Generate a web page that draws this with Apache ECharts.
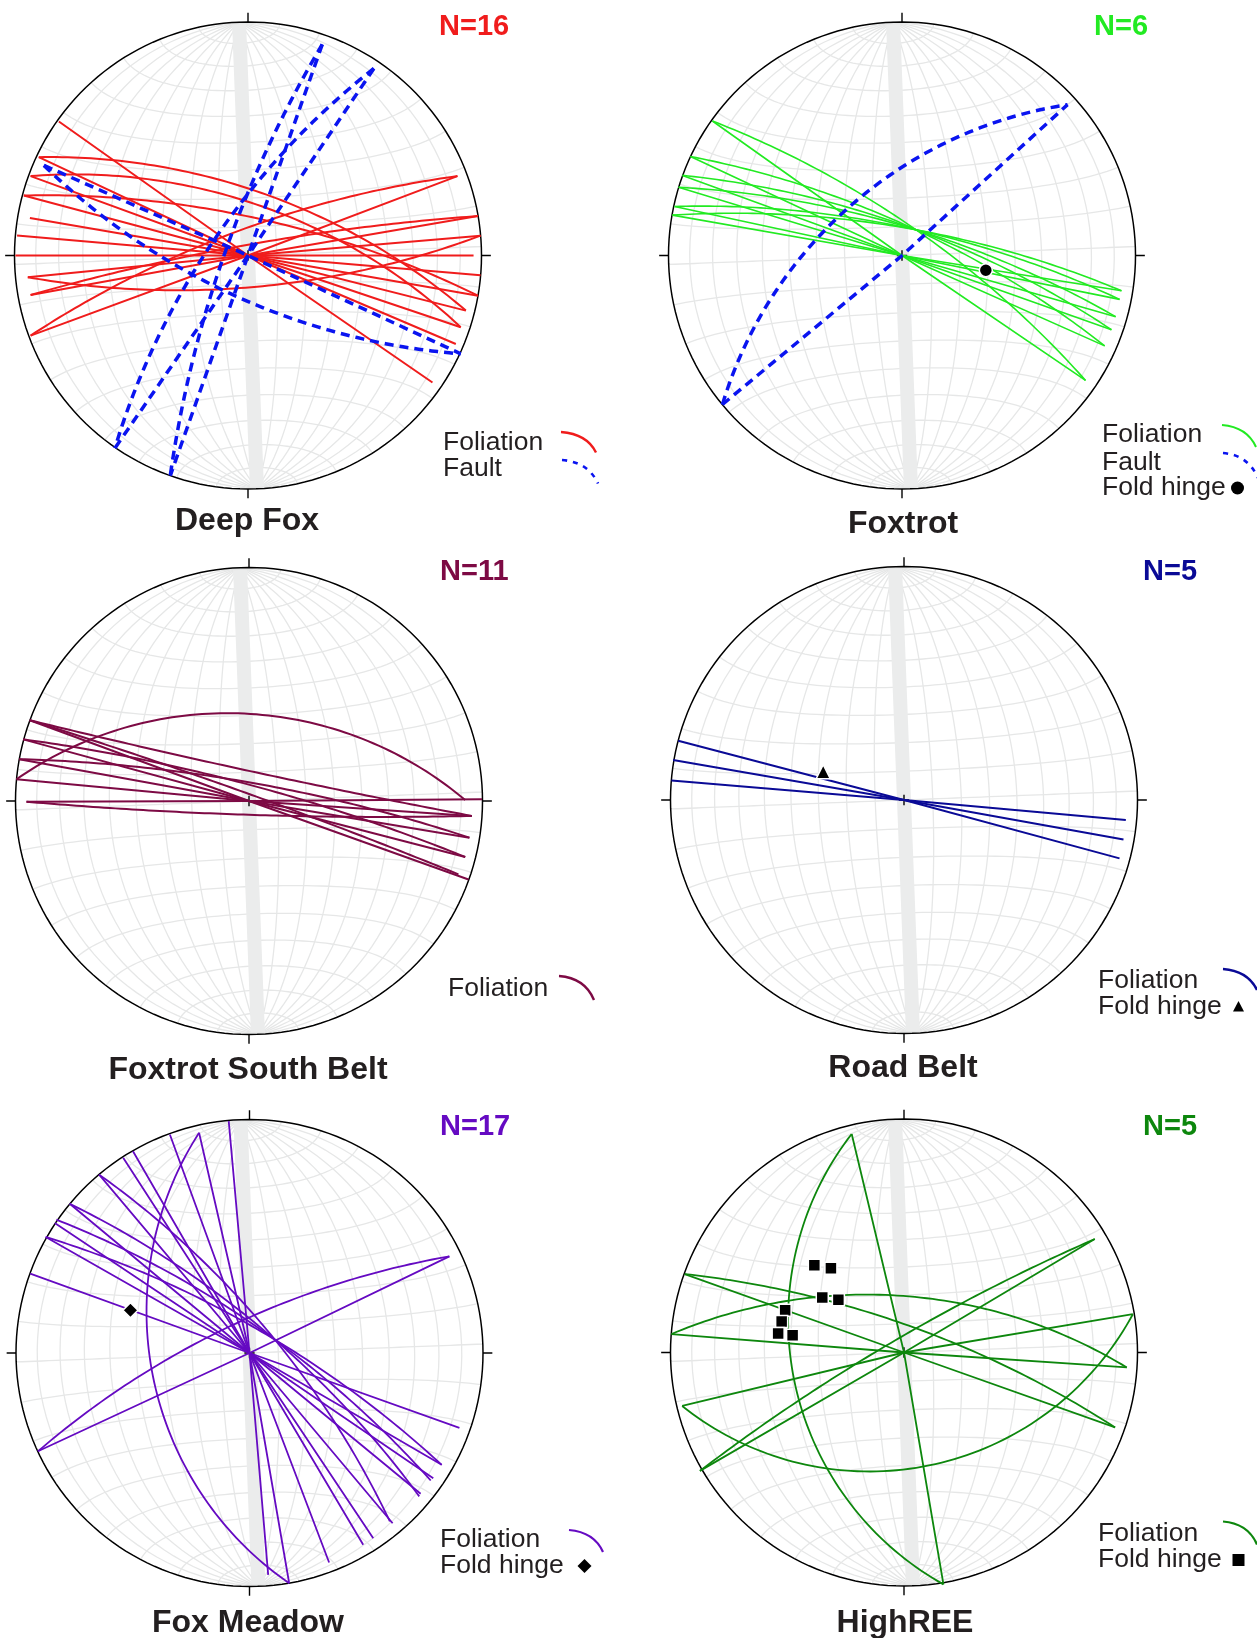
<!DOCTYPE html>
<html>
<head>
<meta charset="utf-8">
<title>Stereonets</title>
<script src="https://cdn.jsdelivr.net/npm/echarts@6/dist/echarts.min.js"></script>
<style>
html, body { margin: 0; padding: 0; background: #fff; }
#main { width: 1257px; height: 1638px; }
</style>
</head>
<body>
<div id="main"></div>
<script>
// net units: primitive radius = 100, +y = north
// chords: [x1, y1, x2, y2] drawn through the centre; arcs: [x1, y1, xMid, yMid, x2, y2]
var deepFoxFoliationChords = [
    [-81, 57.4, 79, -54.4], [-89.6, 42.1, 89, -37.9], [-93.1, 34, 91.1, -30.7],
    [-96, 25.7, 93.3, -23.6], [-93.4, 16.1, 98.5, -17.2], [-98.9, 8.6, 99.6, -8.5],
    [-99.6, 0, 96.6, 0], [-94.3, -9.3, 99.6, 8.5], [-93.1, -16.9, 98.5, 16.9],
    [-93.1, -34.3, 89.7, 34]
];
var deepFoxFoliationArcs = [
    [-89.6, 42.1, -1.7, 29.3, 93.3, -23.6], [-93.1, -34.3, -1.7, 11.4, 89.7, 34],
    [-93.1, 34, -1.7, 23.6, 91.1, -30.7], [-96, 25.7, -1.7, 17.1, 98.5, -17.2],
    [-94.3, -9.3, -8.9, -14.3, 99.6, 8.5], [-93.1, -16.9, -1.7, 4.3, 98.5, 16.9]
];
var deepFoxFaultChords = [[31.8, 90.4, -33.3, -94.3], [53.9, 80.1, -57, -82.5], [-87.4, 38.6, 91.1, -42.1]];
var deepFoxFaultArcs = [
    [31.8, 90.4, -10.3, 0, -33.3, -94.3], [53.9, 80.1, -18.9, 0, -57, -82.5],
    [-87.4, 38.6, -8.9, -15.7, 91.1, -42.1]
];

var foxtrotFoliationChords = [
    [-81.2, 57.6, 78.6, -53.5], [-90.6, 42.4, 86.8, -38.7], [-94, 34.3, 89.7, -31.8],
    [-95.7, 29.2, 91.5, -26.2], [-97.4, 21, 93.2, -18.8], [-98.3, 17.3, 94, -15.1]
];
var foxtrotFoliationArcs = [
    [-81.2, 57.6, 6, 11, 78.6, -53.5], [-90.6, 42.4, 6, 11, 86.8, -38.7], [-94, 34.3, 6, 11, 89.7, -31.8],
    [-95.7, 29.2, 6, 11, 91.5, -26.2], [-97.4, 21, 6, 11, 93.2, -18.8], [-98.3, 17.3, 6, 11, 94, -15.1]
];
var foxtrotFaultChords = [[-76.9, -63.8, 70.9, 64.6]];
var foxtrotFaultArcs = [[-76.9, -63.8, -25.6, 18.1, 70.9, 64.6]];
var foxtrotHinges = [[35.9, -6.3]];

var southBeltFoliationChords = [
    [-93.9, 34.6, 94, -33.6], [-96.7, 26.4, 92.6, -24], [-98.4, 17.9, 94.4, -15.7],
    [-99.6, 9.3, 95.4, -6.4], [-95.3, -0.3, 99.8, 0.7]
];
var southBeltFoliationArcs = [
    [-99.6, 9.3, -9.6, 37.6, 92.6, 0.4], [-93.9, 34.6, 0, 12.9, 95.4, -6.4],
    [-96.7, 26.4, 0, 7, 92.6, -24], [-98.4, 17.9, 0, 8, 94.4, -15.7],
    [-95.3, -0.3, -16.7, -5.3, 95.4, -6.4], [-93.9, 34.6, 0, 3, 89.7, -31.4]
];

var roadBeltFoliationChords = [[-96.7, 25.4, 92.3, -25], [-98.9, 17.1, 94, -16.9], [-99.6, 8.3, 95, -8.6]];
var roadBeltHinges = [[-34.6, 12.1]];

var foxMeadowFoliationChords = [
    [-93.9, 34, 89.9, -32.1], [-87.3, 49.7, 82.3, -47.9], [-83.4, 55.7, 78.7, -53.6],
    [-77, 63.9, 73.3, -60.3], [-64.4, 76.4, 61.3, -72.9], [-54.1, 83.6, 53, -79.3],
    [-49.9, 86.4, 48.7, -82.1], [-34.1, 93.6, 34.1, -89.7], [-8.9, 99.3, 8, -95],
    [-90.6, -42.1, 85.6, 41.4], [-21.6, 94.3, 17, -98.6]
];
var foxMeadowFoliationArcs = [
    [-21.6, 94.3, -44.1, 18.6, 17, -98.6], [-90.6, -42.1, -9.9, 10.7, 85.6, 41.4],
    [-82.7, 57.1, 10.9, 5.7, 77.6, -54.6], [-77, 63.9, 10.9, 5.7, 72.7, -61.4],
    [-64.4, 76.4, 10.9, 5.7, 60.1, -72.1], [-87.3, 49.7, 10.9, 5.7, 82.3, -47.9]
];
var foxMeadowHinges = [[-51, 18.3]];

var highReeFoliationChords = [
    [-22.4, 93.6, 16.9, -99.3], [-95, -22.9, 98, 16.4], [-87.4, -50.7, 81.7, 48.6],
    [-99.6, 7.9, 95.4, -6.4], [-93.9, 33.6, 90.4, -32.1]
];
var highReeFoliationArcs = [
    [-22.4, 93.6, -49.6, 11, 16.9, -99.3], [-95, -22.9, -18.9, -50.9, 98, 16.4],
    [-87.4, -50.7, -2.4, 6, 81.7, 48.6], [-99.6, 7.9, -25.3, 24.6, 95.4, -6.4],
    [-93.9, 33.6, -2, 12.9, 90.4, -32.1]
];
var highReeHinges = [
    [-38.4, 37.4], [-31.3, 36.1], [-35, 23.6], [-28.1, 22.6],
    [-50.9, 18.1], [-52.4, 13.3], [-53.9, 8.1], [-47.7, 7.4]
];

var panelTitles = ['Deep Fox', 'Foxtrot', 'Foxtrot South Belt', 'Road Belt', 'Fox Meadow', 'HighREE'];
var panelCounts = ['N=16', 'N=6', 'N=11', 'N=5', 'N=17', 'N=5'];

var FONT = '"Liberation Sans", Arial, Helvetica, sans-serif';
var TEXT = '#231f20';
var R = 233.5;      // px for 100 net units
var EXT = 106;      // axis half range
var TILT = 2.2;     // net drawn slightly rotated

var panels = [
    {cx: 248, cy: 255.5, nx: 439, ny: 27, tx: 247, ty: 521, color: '#f01c1c', width: 2,
        fol: deepFoxFoliationChords, folArcs: deepFoxFoliationArcs,
        fault: deepFoxFaultChords, faultArcs: deepFoxFaultArcs,
        legend: {x: 443, y: 443, arc: [561, 432, 596, 452.5], items: ['Foliation', 'Fault']}},
    {cx: 902, cy: 255.5, nx: 1094, ny: 27, tx: 903, ty: 524, color: '#22ea22', width: 1.6,
        fol: foxtrotFoliationChords, folArcs: foxtrotFoliationArcs,
        fault: foxtrotFaultChords, faultArcs: foxtrotFaultArcs,
        hinges: foxtrotHinges, symbol: 'circle', symbolSize: 13,
        legend: {x: 1102, y: 435, arc: [1222, 425, 1256, 447], items: ['Foliation', 'Fault', 'Fold hinge']}},
    {cx: 249, cy: 801, nx: 440, ny: 572, tx: 248, ty: 1070, color: '#7d0a44', width: 2,
        fol: southBeltFoliationChords, folArcs: southBeltFoliationArcs,
        legend: {x: 448, y: 989, arc: [559, 976, 594, 1000], items: ['Foliation']}},
    {cx: 904, cy: 800, nx: 1143, ny: 572, tx: 903, ty: 1068, color: '#0a0a96', width: 2,
        fol: roadBeltFoliationChords, folArcs: [],
        hinges: roadBeltHinges, symbol: 'triangle', symbolSize: 14,
        legend: {x: 1098, y: 981, arc: [1223, 969, 1257, 990], items: ['Foliation', 'Fold hinge']}},
    {cx: 249.5, cy: 1353, nx: 440, ny: 1127, tx: 248, ty: 1623, color: '#650ac2', width: 1.8,
        fol: foxMeadowFoliationChords, folArcs: foxMeadowFoliationArcs,
        hinges: foxMeadowHinges, symbol: 'diamond', symbolSize: 15,
        legend: {x: 440, y: 1540, arc: [569, 1530, 603, 1552], items: ['Foliation', 'Fold hinge']}},
    {cx: 904, cy: 1352.5, nx: 1143, ny: 1127, tx: 905, ty: 1623, color: '#0d870d', width: 1.8,
        fol: highReeFoliationChords, folArcs: highReeFoliationArcs,
        hinges: highReeHinges, symbol: 'rect', symbolSize: 12,
        legend: {x: 1098, y: 1534, arc: [1223, 1521.5, 1257, 1544.5], items: ['Foliation', 'Fold hinge']}}
];

function rot(p) {
    var a = TILT * Math.PI / 180;
    return [p[0] * Math.cos(a) - p[1] * Math.sin(a), p[0] * Math.sin(a) + p[1] * Math.cos(a)];
}

// equal-area equatorial net point
function eqArea(lon, lat) {
    var l = lon * Math.PI / 180, p = lat * Math.PI / 180;
    var k = Math.sqrt(1 / (1 + Math.cos(p) * Math.cos(l)));
    return rot([100 * k * Math.cos(p) * Math.sin(l), 100 * k * Math.sin(p)]);
}

function netLines() {
    var out = [], lon, lat, pts;
    for (lon = -80; lon <= 80; lon += 10) {
        pts = [];
        for (lat = -90; lat <= 90; lat += 3) pts.push(eqArea(lon, lat));
        out.push(pts);
    }
    for (lat = -80; lat <= 80; lat += 10) {
        pts = [];
        for (lon = -90; lon <= 90; lon += 3) pts.push(eqArea(lon, lat));
        out.push(pts);
    }
    return out;
}

function circlePts(r) {
    var pts = [];
    for (var k = 0; k <= 180; k++) {
        var t = k / 180 * 2 * Math.PI;
        pts.push([r * Math.cos(t), r * Math.sin(t)]);
    }
    return pts;
}

function chordCoords(c) {
    return [[c[0], c[1]], [0, 0], [c[2], c[3]]];
}

// circular arc through start, middle and end point
function arcCoords(a) {
    var x1 = a[0], y1 = a[1], xm = a[2], ym = a[3], x2 = a[4], y2 = a[5];
    var d = 2 * (x1 * (ym - y2) + xm * (y2 - y1) + x2 * (y1 - ym));
    if (Math.abs(d) < 1e-6) return [[x1, y1], [xm, ym], [x2, y2]];
    var s1 = x1 * x1 + y1 * y1, sm = xm * xm + ym * ym, s2 = x2 * x2 + y2 * y2;
    var ux = (s1 * (ym - y2) + sm * (y2 - y1) + s2 * (y1 - ym)) / d;
    var uy = (s1 * (x2 - xm) + sm * (x1 - x2) + s2 * (xm - x1)) / d;
    var rr = Math.sqrt((x1 - ux) * (x1 - ux) + (y1 - uy) * (y1 - uy));
    var t1 = Math.atan2(y1 - uy, x1 - ux), tm = Math.atan2(ym - uy, xm - ux), t2 = Math.atan2(y2 - uy, x2 - ux);
    var TAU = 2 * Math.PI;
    var dccw = ((t2 - t1) % TAU + TAU) % TAU, dm = ((tm - t1) % TAU + TAU) % TAU;
    var sweep = dm < dccw ? dccw : dccw - TAU;
    var pts = [];
    for (var k = 0; k <= 80; k++) {
        var t = t1 + sweep * k / 80;
        pts.push([ux + rr * Math.cos(t), uy + rr * Math.sin(t)]);
    }
    return pts;
}

function linesSeries(i, list, style, z) {
    return {
        type: 'lines', coordinateSystem: 'cartesian2d', xAxisIndex: i, yAxisIndex: i,
        polyline: true, silent: true, z: z, animation: false,
        lineStyle: Object.assign({opacity: 1, curveness: 0}, style),
        data: list.map(function (c) { return {coords: c}; })
    };
}

var grids = [], xAxes = [], yAxes = [], series = [], graphics = [];
var half = EXT / 100 * R;
var net = netLines();
var ticks = [
    [[0, 100], [0, 104]], [[0, -100], [0, -104]], [[-100, 0], [-104, 0]], [[100, 0], [104, 0]],
    [[-2.2, 0], [2.2, 0]], [[0, -2.2], [0, 2.2]]
];

panels.forEach(function (p, i) {
    grids.push({left: p.cx - half, top: p.cy - half, width: 2 * half, height: 2 * half});
    xAxes.push({type: 'value', gridIndex: i, min: -EXT, max: EXT, show: false});
    yAxes.push({type: 'value', gridIndex: i, min: -EXT, max: EXT, show: false});

    series.push(linesSeries(i, net, {color: '#e6e7e7', width: 1.3}, 1));
    series.push(linesSeries(i, [[rot([0, 99]), rot([0, -99])]], {color: '#ebecec', width: 14}, 1));
    series.push(linesSeries(i, [circlePts(100)], {color: '#000', width: 1.5}, 4));
    series.push(linesSeries(i, ticks, {color: '#000', width: 1.4}, 4));

    var folList = p.fol.map(chordCoords).concat(p.folArcs.map(arcCoords));
    series.push(linesSeries(i, folList, {color: p.color, width: p.width}, 5));

    if (p.fault) {
        var faultList = p.fault.map(chordCoords).concat(p.faultArcs.map(arcCoords));
        series.push(linesSeries(i, faultList, {color: '#0a14f0', width: 3.5, type: [9, 6]}, 6));
    }
    if (p.hinges) {
        series.push({
            type: 'scatter', xAxisIndex: i, yAxisIndex: i, z: 8, silent: true, animation: false,
            symbol: p.symbol, symbolSize: p.symbolSize,
            itemStyle: {color: '#000', borderColor: '#fff', borderWidth: 1.5, opacity: 1},
            data: p.hinges
        });
    }

    graphics.push({
        type: 'text', x: p.tx, y: p.ty, z: 10,
        style: {text: panelTitles[i], font: 'bold 32px ' + FONT, fill: TEXT,
            align: 'center', verticalAlign: 'middle', textAlign: 'center', textVerticalAlign: 'middle'}
    });
    graphics.push({
        type: 'text', x: p.nx, y: p.ny, z: 10,
        style: {text: panelCounts[i], font: 'bold 29px ' + FONT, fill: p.color,
            align: 'left', verticalAlign: 'middle', textAlign: 'left', textVerticalAlign: 'middle'}
    });

    // legend
    var lg = p.legend;
    var rows = lg.items.length === 3 ? [0, 28, 53] : [0, 26];
    lg.items.forEach(function (t, k) {
        graphics.push({
            type: 'text', x: lg.x, y: lg.y + rows[k], z: 10,
            style: {text: t, font: '26.5px ' + FONT, fill: TEXT,
                align: 'left', verticalAlign: 'middle', textAlign: 'left', textVerticalAlign: 'middle'}
        });
    });
    var a = lg.arc;
    graphics.push({
        type: 'bezierCurve', z: 10,
        shape: {x1: a[0], y1: a[1], x2: a[2], y2: a[3], cpx1: a[2] - 9, cpy1: a[1] + 2},
        style: {stroke: p.color, lineWidth: p.width + 0.4, fill: null}
    });
    if (lg.items[1] === 'Fault') {
        graphics.push({
            type: 'bezierCurve', z: 10,
            shape: {x1: a[0] + 1, y1: a[1] + 28, x2: a[2] + 2, y2: a[3] + 31, cpx1: a[2] - 8, cpy1: a[1] + 30},
            style: {stroke: '#0a14f0', lineWidth: 2.6, fill: null, lineDash: [5, 6]}
        });
    }
    if (p.hinges) {
        var hy = lg.y + rows[rows.length - 1];
        var hx = (a[0] + a[2]) / 2 - 1.5;
        var shape;
        if (p.symbol === 'circle') {
            shape = {type: 'circle', shape: {cx: hx, cy: hy, r: 6.5}};
        } else if (p.symbol === 'triangle') {
            shape = {type: 'polygon', shape: {points: [[hx, hy - 6], [hx + 5.5, hy + 4.5], [hx - 5.5, hy + 4.5]]}};
        } else if (p.symbol === 'diamond') {
            shape = {type: 'polygon', shape: {points: [[hx, hy - 7], [hx + 7, hy], [hx, hy + 7], [hx - 7, hy]]}};
        } else {
            shape = {type: 'rect', shape: {x: hx - 6, y: hy - 6, width: 12, height: 12}};
        }
        shape.z = 10;
        shape.style = {fill: '#000'};
        graphics.push(shape);
    }
});

var chart = echarts.init(document.getElementById('main'), null, {renderer: 'canvas'});
chart.setOption({
    backgroundColor: '#fff',
    animation: false,
    grid: grids,
    xAxis: xAxes,
    yAxis: yAxes,
    series: series,
    graphic: graphics
});
</script>
</body>
</html>
